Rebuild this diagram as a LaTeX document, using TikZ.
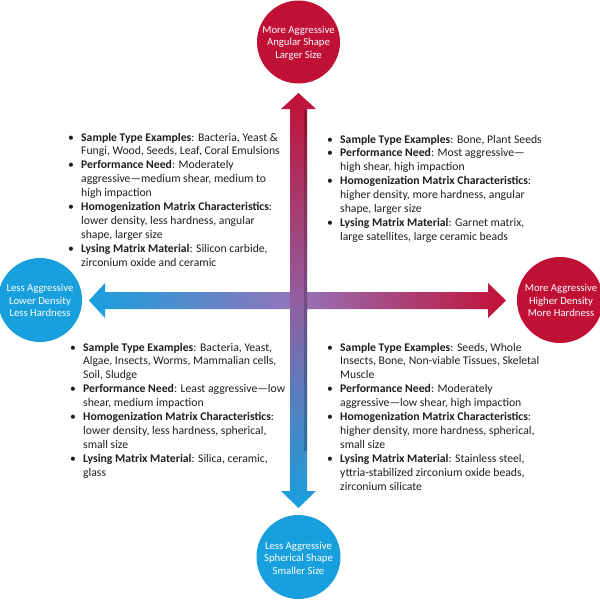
\documentclass[tikz,border=0pt]{standalone}
\usepackage{fontspec}
\setmainfont{Carlito}
\newcommand\bul{\makebox[13pt][l]{\textbullet}}
\newcommand\ind{\hspace*{13pt}}
\newcommand\colbox[1]{\parbox[t]{250pt}{\raggedright\fontsize{11.7}{13.9}\selectfont #1}}
\begin{document}
\begin{tikzpicture}[x=1pt,y=-1pt]
\definecolor{cred}{RGB}{193,16,54}
\definecolor{cblue}{RGB}{24,160,222}
\definecolor{cpurpv}{RGB}{145,95,160}
\definecolor{cpurph}{RGB}{150,115,185}
\definecolor{ctext}{RGB}{30,30,30}
\tikzset{
  bubble/.style={circle, inner sep=0pt, text=white, align=center,
    font=\fontsize{10.7}{12.5}\selectfont},
  column/.style={anchor=base west, inner sep=0pt, text=ctext}
}
\useasboundingbox (0,0) rectangle (600,600);
% horizontal arrow
\path[left color=cblue, right color=cred, middle color=cpurph]
  (89,300.5) -- (105,283) -- (105,292) -- (488,292) -- (488,283) -- (506,300.5)
  -- (488,318) -- (488,309) -- (105,309) -- (105,318) -- cycle;
% vertical arrow
\path[top color=cred, bottom color=cblue, middle color=cpurpv]
  (298.5,93) -- (316,109) -- (307,109) -- (307,491) -- (316,491) -- (298.5,508)
  -- (281,491) -- (290,491) -- (290,109) -- (281,109) -- cycle;
\path[top color=black!50!cred, bottom color=black!50!cblue, middle color=black!40!cpurpv, opacity=0.45]
  (304,110) rectangle (307,450);
% circles
\fill[cred] (298.5,42) circle (41.5);
\node[bubble] (top) at (298.5,43) {More Aggressive\\Angular Shape\\Larger Size};
\fill[cblue] (40,300) circle (42);
\node[bubble] (left) at (40,300.5) {Less Aggressive\\Lower Density\\Less Hardness};
\fill[cred] (560,300) circle (43);
\node[bubble] (right) at (561,300.5) {More Aggressive\\Higher Density\\More Hardness};
\fill[cblue] (298.5,557) circle (42);
\node[bubble] (bottom) at (298.5,558) {Less Aggressive\\Spherical Shape\\Smaller Size};
% text columns
\node[column] (tl) at (68,141) {\colbox{%
\bul\textbf{Sample Type Examples}: Bacteria, Yeast \&\\
\ind Fungi, Wood, Seeds, Leaf, Coral Emulsions\\
\bul\textbf{Performance Need}: Moderately\\
\ind aggressive—medium shear, medium to\\
\ind high impaction\\
\bul\textbf{Homogenization Matrix Characteristics}:\\
\ind lower density, less hardness, angular\\
\ind shape, larger size\\
\bul\textbf{Lysing Matrix Material}: Silicon carbide,\\
\ind zirconium oxide and ceramic}};
\node[column] (tr) at (327,143) {\colbox{%
\bul\textbf{Sample Type Examples}: Bone, Plant Seeds\\
\bul\textbf{Performance Need}: Most aggressive—\\
\ind high shear, high impaction\\
\bul\textbf{Homogenization Matrix Characteristics}:\\
\ind higher density, more hardness, angular\\
\ind shape, larger size\\
\bul\textbf{Lysing Matrix Material}: Garnet matrix,\\
\ind large satellites, large ceramic beads}};
\node[column] (bl) at (70,351) {\colbox{%
\bul\textbf{Sample Type Examples}: Bacteria, Yeast,\\
\ind Algae, Insects, Worms, Mammalian cells,\\
\ind Soil, Sludge\\
\bul\textbf{Performance Need}: Least aggressive—low\\
\ind shear, medium impaction\\
\bul\textbf{Homogenization Matrix Characteristics}:\\
\ind lower density, less hardness, spherical,\\
\ind small size\\
\bul\textbf{Lysing Matrix Material}: Silica, ceramic,\\
\ind glass}};
\node[column] (br) at (327,351) {\colbox{%
\bul\textbf{Sample Type Examples}: Seeds, Whole\\
\ind Insects, Bone, Non-viable Tissues, Skeletal\\
\ind Muscle\\
\bul\textbf{Performance Need}: Moderately\\
\ind aggressive—low shear, high impaction\\
\bul\textbf{Homogenization Matrix Characteristics}:\\
\ind higher density, more hardness, spherical,\\
\ind small size\\
\bul\textbf{Lysing Matrix Material}: Stainless steel,\\
\ind yttria-stabilized zirconium oxide beads,\\
\ind zirconium silicate}};
\end{tikzpicture}
\end{document}
